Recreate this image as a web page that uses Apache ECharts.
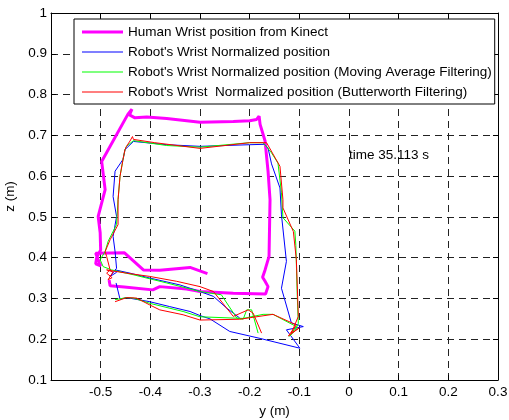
<!DOCTYPE html>
<html><head><meta charset="utf-8">
<script src="https://cdn.jsdelivr.net/npm/echarts@6/dist/echarts.min.js"></script>
<style>html,body{margin:0;padding:0;background:#fff}#c{width:509px;height:420px}</style>
</head><body><div id="c"></div><script>
const xTicks = [-0.6,-0.5,-0.4,-0.3,-0.2,-0.1,0,0.1,0.2,0.3];
const yTicks = [0.1,0.2,0.3,0.4,0.5,0.6,0.7,0.8,0.9,1];
const seriesNames = [
  "Human Wrist position from Kinect",
  "Robot's Wrist Normalized position",
  "Robot's Wrist Normalized position (Moving Average Filtering)",
  "Robot's Wrist  Normalized position (Butterworth Filtering)"
];
const timeLabel = "time 35.113 s";

const humanPts = [[-0.483,0.345],[-0.481,0.331],[-0.4525,0.328],[-0.395,0.321],[-0.381,0.329],[-0.327,0.323],[-0.300,0.317],[-0.233,0.313],[-0.168,0.311],[-0.163,0.329],[-0.169,0.342],[-0.174,0.352],[-0.169,0.370],[-0.161,0.403],[-0.159,0.542],[-0.163,0.612],[-0.169,0.686],[-0.179,0.727],[-0.181,0.747],[-0.186,0.739],[-0.200,0.736],[-0.233,0.734],[-0.300,0.732],[-0.367,0.741],[-0.407,0.745],[-0.431,0.743],[-0.442,0.750],[-0.437,0.764],[-0.445,0.752],[-0.498,0.636],[-0.491,0.567],[-0.505,0.501],[-0.501,0.461],[-0.500,0.419],[-0.508,0.400],[-0.510,0.385],[-0.500,0.380],[-0.505,0.395],[-0.510,0.411],[-0.452,0.412],[-0.414,0.370],[-0.381,0.369],[-0.320,0.376],[-0.285,0.361]];

const robotRaw = [[-0.469,0.338],[-0.461,0.298],[-0.448,0.302],[-0.401,0.292],[-0.361,0.280],[-0.320,0.268],[-0.300,0.258],[-0.280,0.250],[-0.240,0.219],[-0.179,0.202],[-0.099,0.178],[-0.126,0.223],[-0.092,0.231],[-0.116,0.240],[-0.136,0.325],[-0.126,0.391],[-0.136,0.505],[-0.139,0.571],[-0.156,0.630],[-0.163,0.669],[-0.170,0.678],[-0.200,0.677],[-0.300,0.673],[-0.367,0.677],[-0.434,0.685],[-0.451,0.665],[-0.455,0.641],[-0.471,0.612],[-0.475,0.550],[-0.468,0.501],[-0.475,0.452],[-0.471,0.415],[-0.468,0.374],[-0.481,0.354],[-0.468,0.364],[-0.471,0.370],[-0.441,0.362],[-0.401,0.350],[-0.340,0.333],[-0.300,0.317],[-0.273,0.305],[-0.246,0.276],[-0.220,0.252]];

const robotMA = [[-0.471,0.297],[-0.448,0.302],[-0.434,0.301],[-0.401,0.288],[-0.334,0.268],[-0.300,0.255],[-0.213,0.251],[-0.173,0.261],[-0.153,0.261],[-0.106,0.231],[-0.120,0.207],[-0.108,0.222],[-0.102,0.239],[-0.104,0.300],[-0.107,0.430],[-0.109,0.465],[-0.133,0.498],[-0.136,0.559],[-0.143,0.632],[-0.156,0.657],[-0.173,0.682],[-0.200,0.682],[-0.300,0.671],[-0.367,0.675],[-0.434,0.687],[-0.448,0.673],[-0.451,0.665],[-0.455,0.641],[-0.461,0.600],[-0.465,0.542],[-0.468,0.481],[-0.485,0.440],[-0.491,0.415],[-0.501,0.395],[-0.495,0.378],[-0.478,0.370],[-0.434,0.358],[-0.367,0.338],[-0.300,0.317],[-0.257,0.309],[-0.226,0.252],[-0.213,0.249],[-0.206,0.272],[-0.196,0.272],[-0.183,0.215]];

const robotBW = [[-0.471,0.292],[-0.448,0.302],[-0.428,0.301],[-0.401,0.284],[-0.381,0.272],[-0.334,0.260],[-0.300,0.247],[-0.220,0.249],[-0.153,0.261],[-0.106,0.235],[-0.122,0.208],[-0.100,0.228],[-0.116,0.215],[-0.102,0.256],[-0.106,0.395],[-0.112,0.464],[-0.133,0.522],[-0.133,0.542],[-0.139,0.624],[-0.166,0.682],[-0.200,0.682],[-0.300,0.668],[-0.391,0.682],[-0.434,0.690],[-0.436,0.697],[-0.441,0.686],[-0.448,0.673],[-0.451,0.665],[-0.455,0.641],[-0.461,0.600],[-0.465,0.542],[-0.465,0.481],[-0.481,0.444],[-0.491,0.415],[-0.488,0.403],[-0.481,0.370],[-0.488,0.362],[-0.477,0.351],[-0.485,0.346],[-0.475,0.365],[-0.488,0.370],[-0.448,0.362],[-0.401,0.354],[-0.347,0.342],[-0.300,0.329],[-0.273,0.317],[-0.233,0.256],[-0.203,0.272],[-0.193,0.264],[-0.176,0.215]];

const FONT = 'Liberation Sans, Arial, sans-serif';
const FS = 13.5;
const chart = echarts.init(document.getElementById('c'), null, {renderer:'canvas'});
const fmt = v => String(parseFloat((Math.round(v*10)/10).toFixed(1)));
const xStep = Math.round((xTicks[1]-xTicks[0])*10)/10;
const yStep = Math.round((yTicks[1]-yTicks[0])*10)/10;
const grid = {left:51, right:11, top:13, bottom:40, containLabel:false, outerBoundsMode:'none'};
const splitStyle = {show:true, lineStyle:{color:'#222', width:1, type:[7,5]}};
const axisLineStyle = {show:true, onZero:false, lineStyle:{color:'#000', width:1}};
const tickStyle = {show:true, inside:true, length:5, lineStyle:{color:'#000'}};
const lbl = {color:'#000', fontSize:FS, fontFamily:FONT};
const thinIcon = 'path://M0,0H41V1H0Z';
const thickIcon = 'path://M0,0H41V3H0Z';

const option = {
  animation:false,
  backgroundColor:'#fff',
  grid: grid,
  xAxis: [
    {type:'value', min:xTicks[0], max:xTicks[xTicks.length-1], interval:xStep, position:'bottom',
     axisLine:axisLineStyle, axisTick:tickStyle, splitLine:splitStyle,
     axisLabel:Object.assign({margin:5, showMinLabel:false, formatter:fmt}, lbl),
     name:'y (m)', nameLocation:'middle', nameGap:23, nameTextStyle:lbl},
    {type:'value', min:xTicks[0], max:xTicks[xTicks.length-1], interval:xStep, position:'top',
     axisLine:axisLineStyle, axisTick:tickStyle, splitLine:{show:false}, axisLabel:{show:false}}
  ],
  yAxis: [
    {type:'value', min:yTicks[0], max:yTicks[yTicks.length-1], interval:yStep, position:'left',
     axisLine:axisLineStyle, axisTick:tickStyle, splitLine:splitStyle,
     axisLabel:Object.assign({margin:4, formatter:fmt}, lbl),
     name:'z (m)', nameLocation:'middle', nameGap:33, nameTextStyle:lbl},
    {type:'value', min:yTicks[0], max:yTicks[yTicks.length-1], interval:yStep, position:'right',
     axisLine:axisLineStyle, axisTick:tickStyle, splitLine:{show:false}, axisLabel:{show:false}}
  ],
  legend: {
    show:true, orient:'vertical', left:74, top:19,
    padding:[6,3,5,8], itemGap:6, itemWidth:41, itemHeight:15,
    backgroundColor:'#fff', borderColor:'#000', borderWidth:1, borderRadius:0,
    textStyle:{color:'#000', fontSize:FS, fontFamily:FONT},
    data: [
      {name:seriesNames[0], icon:thickIcon},
      {name:seriesNames[1], icon:thinIcon},
      {name:seriesNames[2], icon:thinIcon},
      {name:seriesNames[3], icon:thinIcon}
    ]
  },
  graphic: [{type:'text', left:349, top:148, z:10,
    style:{text:timeLabel, fill:'#000', font: FS+'px '+FONT}}],
  series: [
    {name:seriesNames[0], type:'line', data:humanPts, symbol:'none', lineStyle:{color:'#ff00ff', width:3}, itemStyle:{color:'#ff00ff'}},
    {name:seriesNames[1], type:'line', data:robotRaw, symbol:'none', lineStyle:{color:'#0000ff', width:1}, itemStyle:{color:'#0000ff'}},
    {name:seriesNames[2], type:'line', data:robotMA, symbol:'none', lineStyle:{color:'#00ff00', width:1}, itemStyle:{color:'#00ff00'}},
    {name:seriesNames[3], type:'line', data:robotBW, symbol:'none', lineStyle:{color:'#ff0000', width:1}, itemStyle:{color:'#ff0000'}}
  ]
};
chart.setOption(option);
</script></body></html>
